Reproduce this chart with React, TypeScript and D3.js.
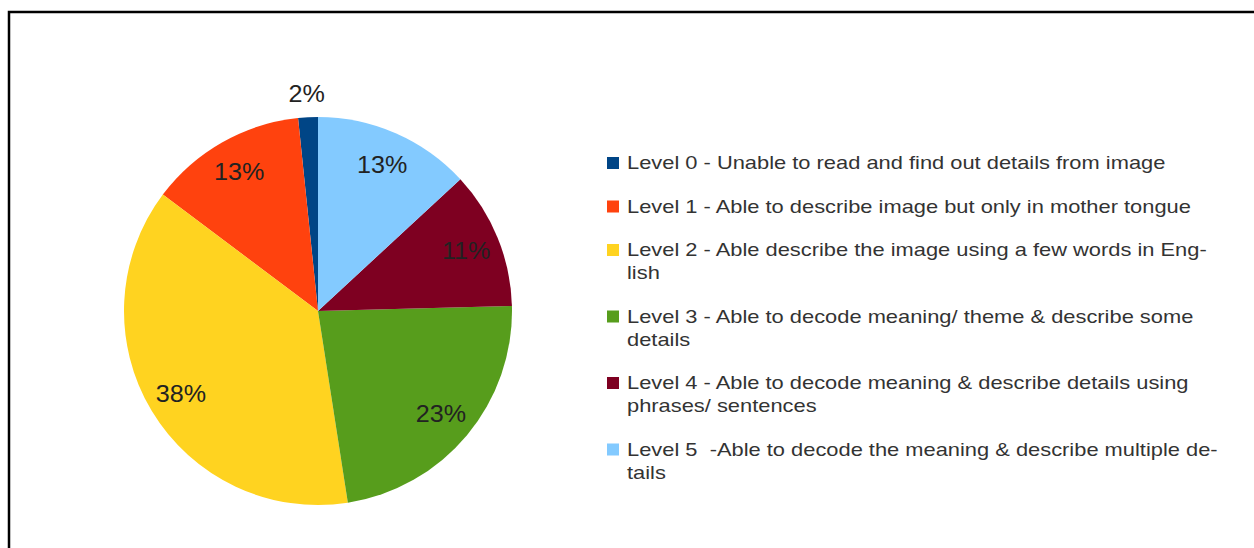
import * as d3 from 'd3';
import React from 'react';

// student counts per level (labels give the rounded %)
const levels = ['Level 0', 'Level 1', 'Level 2', 'Level 3', 'Level 4', 'Level 5'];
const counts = [1, 8, 23, 14, 7, 8];
const colors = ['#004586', '#ff420e', '#ffd320', '#579d1c', '#7e0021', '#83caff'];
const legendLines = [
    ['Level 0 - Unable to read and find out details from image'],
    ['Level 1 - Able to describe image but only in mother tongue'],
    ['Level 2 - Able describe the image using a few words in Eng-', 'lish'],
    ['Level 3 - Able to decode meaning/ theme & describe some', 'details'],
    ['Level 4 - Able to decode meaning & describe details using', 'phrases/ sentences'],
    ['Level 5  -Able to decode the meaning & describe multiple de-', 'tails'],
];

const W = 1254;
const H = 548;
const cx = 318;
const cy = 311;
const R = 194;

export default function App() {
    const total = d3.sum(counts);
    const pie = d3.pie<number>()
        .sort(null)
        .startAngle(0)
        .endAngle(-2 * Math.PI);
    const arcs = pie(counts);
    const arc = d3.arc<d3.PieArcDatum<number>>().innerRadius(0).outerRadius(R);
    const fmt = d3.format('.0%');

    // legend layout
    const lineH = 23;
    const gap = 20.5;
    let y = 163;
    const legendY = legendLines.map(lines => {
        const cur = y;
        y += lines.length * lineH + gap;
        return cur;
    });

    return (
        <svg width={W} height={H} style={{ position: 'absolute', left: 0, top: 0, background: '#fff' }}
            fontFamily="'Liberation Sans', Arial, sans-serif">
            <rect x={9} y={12} width={1400} height={700} fill="none" stroke="#000" strokeWidth={2.5} />
            <g transform={`translate(${cx},${cy})`}>
                {arcs.map((a, i) => (
                    <path key={i} d={arc(a) || ''} fill={colors[i]} />
                ))}
                {arcs.map((a, i) => {
                    const mid = (a.startAngle + a.endAngle) / 2;
                    const share = a.value / total;
                    const r = share < 0.05 ? R + 24 : 160;
                    return (
                        <text key={'l' + i}
                            transform={`translate(${r * Math.sin(mid)},${-r * Math.cos(mid)}) scale(1.07,1)`}
                            dy="0.35em" textAnchor="middle" fontSize={23.5} fill="#222">
                            {fmt(share)}
                        </text>
                    );
                })}
            </g>
            <g>
                {legendLines.map((lines, i) => (
                    <g key={levels[i]}>
                        <rect x={607} y={legendY[i] - 6} width={12} height={12} fill={colors[i]} />
                        {lines.map((t, j) => (
                            <text key={j} transform={`translate(627,${legendY[i] + j * lineH}) scale(1.25,1)`}
                                dy="0.35em" fontSize={17.5} fill="#333" style={{ whiteSpace: 'pre' }}>
                                {t}
                            </text>
                        ))}
                    </g>
                ))}
            </g>
        </svg>
    );
}
